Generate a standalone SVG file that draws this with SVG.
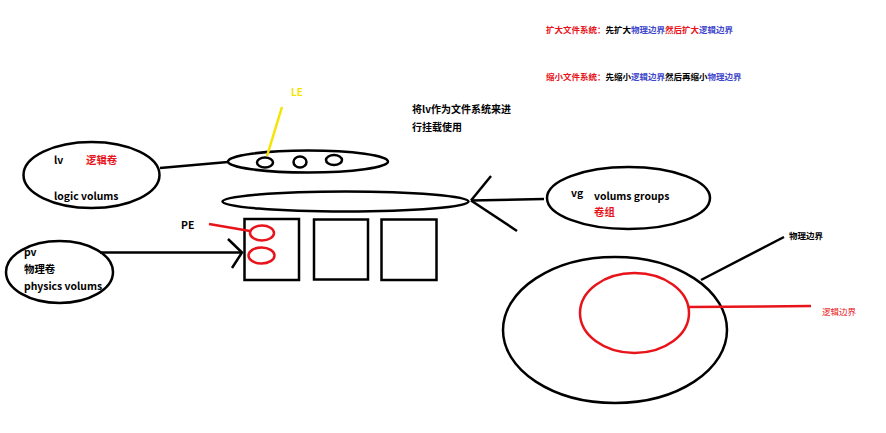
<svg xmlns="http://www.w3.org/2000/svg" width="886" height="433" viewBox="0 0 886 433">
<style>
.k{fill:none;stroke:#000;stroke-width:2.5}
.r{fill:none;stroke:#e8141b;stroke-width:2.5}
.t{font-family:"Noto Sans CJK SC","Noto Sans",sans-serif;font-weight:bold;font-size:10.4px;fill:#000}
.s{font-family:"Noto Sans CJK SC","Noto Sans",sans-serif;font-weight:bold;font-size:8.5px}
.red{fill:#e8141b}
.blue{fill:#3f48cc}
.blk{fill:#000}
</style>
<rect width="886" height="433" fill="#fff"/>
<g id="notes">
<text class="s" x="546" y="33"><tspan class="red">扩大文件系统：</tspan><tspan class="blk">先扩大</tspan><tspan class="blue">物理边界</tspan><tspan class="red">然后扩大</tspan><tspan class="blue">逻辑边界</tspan></text>
<text class="s" x="546" y="80"><tspan class="red">缩小文件系统：</tspan><tspan class="blk">先缩小</tspan><tspan class="blue">逻辑边界</tspan><tspan class="blk">然后再缩小</tspan><tspan class="blue">物理边界</tspan></text>
<text class="t" x="412" y="113" style="font-size:10px">将lv作为文件系统来进</text>
<text class="t" x="412" y="131" style="font-size:10px">行挂载使用</text>
</g>
<g id="lv">
<ellipse class="k" cx="91.5" cy="175" rx="68" ry="33"/>
<text class="t" x="54" y="164">lv</text>
<text class="t red" x="86" y="164">逻辑卷</text>
<text class="t" x="54" y="200">logic volums</text>
</g>
<g id="lv-ellipse">
<ellipse class="k" cx="308" cy="161.5" rx="80" ry="11"/>
<ellipse class="k" cx="265" cy="162.5" rx="8" ry="5"/>
<ellipse class="k" cx="300" cy="162" rx="6.5" ry="5.5"/>
<ellipse class="k" cx="334" cy="160" rx="8" ry="5"/>
</g>
<g id="le">
<text class="t" x="291" y="96" style="fill:#f5e400;font-size:10px">LE</text>
</g>
<g id="vg-ellipse">
<ellipse class="k" cx="345.5" cy="201.5" rx="123" ry="10"/>
</g>
<g id="vg">
<ellipse class="k" cx="628.5" cy="198" rx="81.5" ry="31"/>
<text class="t" x="571" y="197">vg</text>
<text class="t" x="594" y="200">volums groups</text>
<text class="t red" x="594" y="216">卷组</text>
</g>
<g id="pe">
<text class="t" x="181" y="229">PE</text>
<rect class="k" x="244.5" y="219" width="54.5" height="61"/>
<rect class="k" x="314" y="219.5" width="54" height="60"/>
<rect class="k" x="381.5" y="219.5" width="55" height="60.5"/>
<ellipse class="r" cx="262" cy="233" rx="12" ry="7.5"/>
<ellipse class="r" cx="261.5" cy="255.5" rx="13" ry="8"/>
</g>
<g id="pv">
<ellipse class="k" cx="59.5" cy="272" rx="53.5" ry="31"/>
<text class="t" x="24" y="256">pv</text>
<text class="t" x="24" y="273">物理卷</text>
<text class="t" x="24" y="290">physics volums</text>
</g>
<g id="boundary">
<ellipse class="k" cx="615" cy="330" rx="112" ry="73"/>
<ellipse class="r" cx="634.5" cy="313" rx="54.5" ry="40"/>
<text class="s" x="789" y="239" style="fill:#000">物理边界</text>
<text class="s" x="822" y="315" style="fill:#e8141b;font-weight:normal">逻辑边界</text>
</g>
<g id="connectors">
<line class="k" x1="160" y1="168" x2="228" y2="162"/>
<line x1="282" y1="107" x2="267" y2="156" stroke="#f5e400" stroke-width="2.5"/>
<line class="k" x1="471" y1="200.5" x2="544" y2="199"/>
<line class="k" x1="471" y1="200.5" x2="491" y2="176"/>
<line class="k" x1="471" y1="200.5" x2="517" y2="231"/>
<line class="k" x1="100" y1="252.5" x2="241" y2="252.5"/>
<polyline class="k" points="228,239 242,252.5 232,268"/>
<line class="r" x1="209" y1="224" x2="250" y2="231"/>
<line class="r" x1="689" y1="307" x2="811" y2="306"/>
<line class="k" x1="701" y1="280" x2="784" y2="237"/>
</g>
</svg>
